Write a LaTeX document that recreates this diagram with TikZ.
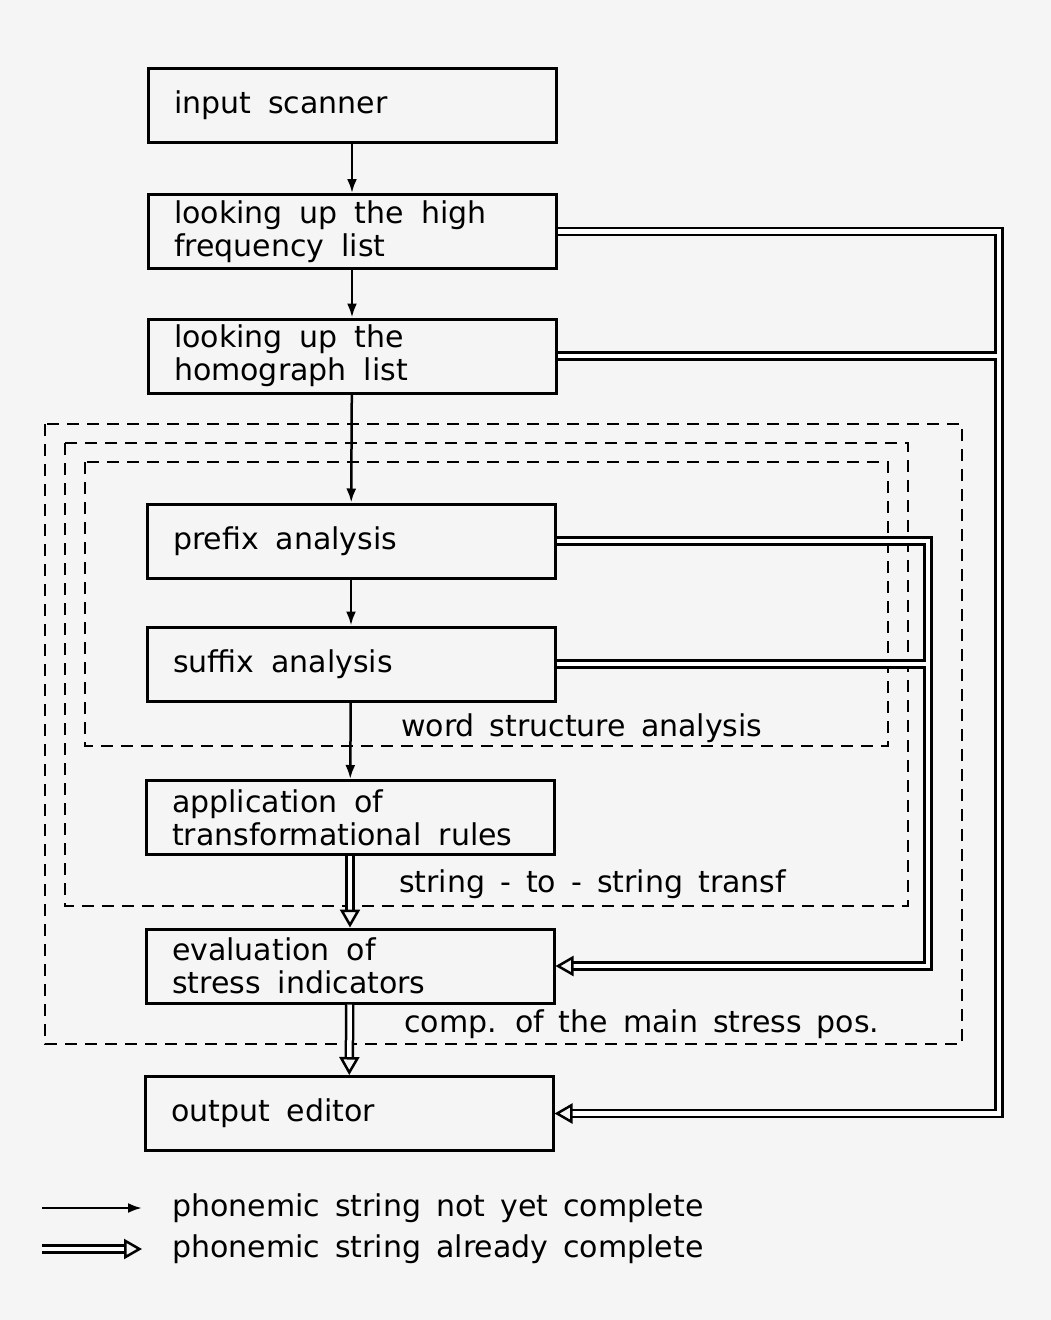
\documentclass[tikz,border=0pt]{standalone}
\usepackage{fontspec}
\setmainfont{DejaVu Sans}
\usetikzlibrary{arrows.meta}
\newcommand{\plotfont}{\fontsize{30}{33}\selectfont}
\newcommand{\boxspace}{\spaceskip=17pt plus 2pt\relax}
\newcommand{\tagspace}{\spaceskip=15pt plus 2pt\relax}
\tikzset{
    stage/.style={draw, line width=3pt, minimum width=408pt, minimum height=74pt,
        text width=356pt, inner xsep=26pt, align=left, font=\plotfont,
        execute at begin node=\boxspace}, % processing step
    single/.style={line width=2.5pt, -{Latex[length=14pt, width=10pt]}}, % string not yet complete
    complete/.style={double, line width=2.5pt, double distance=4.5pt,
        -{Triangle[open, length=18pt, width=20pt, line width=2.5pt]}}, % string already complete
    region/.style={line width=2.5pt, dash pattern=on 12pt off 8pt}, % dashed module frame
    tag/.style={anchor=west, font=\plotfont, inner sep=0pt,
        execute at begin node=\tagspace}
}

\begin{document}
\begin{tikzpicture}[x=1pt, y=-1pt]
    \fill[gray!8] (0,0) rectangle (1051,1320);
    \useasboundingbox (0,0) rectangle (1051,1320);

    % module frames
    \draw[region] (45,424) rectangle (962,1044);
    \draw[region] (65,443) rectangle (908,906);
    \draw[region] (85,462) rectangle (888,746);

    \node[stage] (scan)   at (352,105)   {input scanner};
    \node[stage] (hfl)    at (352,231.5) {looking up the high\\frequency list};
    \node[stage] (homog)  at (352,356)   {looking up the\\homograph list};
    \node[stage] (prefix) at (351,541)   {prefix analysis};
    \node[stage] (suffix) at (351,664)   {suffix analysis};
    \node[stage] (transf) at (350,817.5) {application of\\transformational rules};
    \node[stage] (stress) at (350,966)   {evaluation of\\stress indicators};
    \node[stage] (edit)   at (349,1113.5){output editor};

    \node[tag] (wsa)  at (401,728)  {word structure analysis};
    \node[tag] (sts)  at (399,884)  {string - to - string transf};
    \node[tag] (cmsp) at (404,1024) {comp. of the main stress pos.};

    \coordinate (rbus) at (999,0);
    \coordinate (mbus) at (928,0);

    \draw[single] (scan) -- (hfl);
    \draw[single] (hfl) -- (homog);
    \draw[single] (homog) -- (prefix);
    \draw[single] (prefix) -- (suffix);
    \draw[single] (suffix) -- (transf);
    \draw[complete] (transf) -- (stress);
    \draw[complete] (stress) -- (edit);

    \draw[complete] (homog.east) -- (homog.east -| rbus)
        (hfl.east) -- (hfl.east -| rbus) -- (edit.east -| rbus) -- (edit.east);
    \draw[complete] (suffix.east) -- (suffix.east -| mbus)
        (prefix.east) -- (prefix.east -| mbus) -- (stress.east -| mbus) -- (stress.east);

    % legend
    \node[tag] (keyA) at (172,1208) {phonemic string not yet complete};
    \node[tag] (keyB) at (172,1249) {phonemic string already complete};
    \coordinate (keyL) at (42,0);
    \draw[single] (keyA.west -| keyL) -- ([xshift=-30pt]keyA.west);
    \draw[complete] (keyB.west -| keyL) -- ([xshift=-30pt]keyB.west);
\end{tikzpicture}
\end{document}
